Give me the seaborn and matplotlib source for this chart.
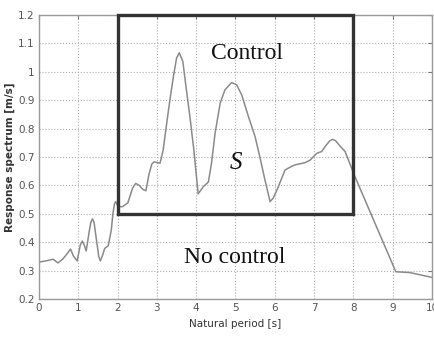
import matplotlib
matplotlib.use("Agg")
import matplotlib.pyplot as plt
import seaborn as sns
import pandas as pd
from matplotlib.patches import Rectangle

period = [0.0, 0.05, 0.2, 0.36, 0.48, 0.6, 0.72, 0.8, 0.88, 0.97, 1.05, 1.1, 1.15, 1.2,
          1.28, 1.32, 1.36, 1.40, 1.46, 1.52, 1.56, 1.62, 1.67, 1.76, 1.84, 1.88, 1.92,
          1.95, 1.98, 2.01, 2.12, 2.26, 2.38, 2.46, 2.55, 2.65, 2.72, 2.80, 2.87, 2.93,
          3.08, 3.16, 3.25, 3.33, 3.42, 3.50, 3.57, 3.66, 3.74, 3.84, 3.94, 4.05, 4.18,
          4.31, 4.39, 4.48, 4.61, 4.73, 4.90, 5.03, 5.16, 5.33, 5.50, 5.62, 5.75, 5.88,
          5.96, 6.09, 6.26, 6.40, 6.51, 6.77, 6.90, 7.07, 7.19, 7.30, 7.40, 7.47, 7.55,
          7.65, 7.79, 7.90, 8.04, 9.08, 9.44, 10.0]
response = [0.33, 0.331, 0.335, 0.34, 0.327, 0.34, 0.36, 0.376, 0.35, 0.334, 0.39, 0.404,
            0.39, 0.369, 0.44, 0.47, 0.482, 0.47, 0.41, 0.35, 0.334, 0.355, 0.378, 0.387,
            0.443, 0.50, 0.535, 0.543, 0.535, 0.525, 0.525, 0.538, 0.59, 0.607, 0.60,
            0.585, 0.581, 0.64, 0.675, 0.683, 0.678, 0.725, 0.819, 0.90, 0.983, 1.048,
            1.067, 1.036, 0.948, 0.842, 0.725, 0.57, 0.595, 0.612, 0.678, 0.783, 0.889,
            0.936, 0.962, 0.954, 0.918, 0.842, 0.771, 0.70, 0.619, 0.543, 0.555, 0.595,
            0.654, 0.665, 0.672, 0.68, 0.689, 0.713, 0.719, 0.74, 0.757, 0.762, 0.757,
            0.74, 0.719, 0.68, 0.631, 0.296, 0.293, 0.276]

box_x = [2, 8]
box_y = [0.5, 1.2]

xticks = [0, 1, 2, 3, 4, 5, 6, 7, 8, 9, 10]
yticks = [0.2, 0.3, 0.4, 0.5, 0.6, 0.7, 0.8, 0.9, 1.0, 1.1, 1.2]
ytick_labels = ["0.2", "0.3", "0.4", "0.5", "0.6", "0.7", "0.8", "0.9", "1", "1.1", "1.2"]

sns.set_style("white")
df = pd.DataFrame({"period": period, "response": response})

fig = plt.figure(figsize=(4.35, 3.40), dpi=100)
ax = fig.add_axes([0.0897, 0.1206, 0.9033, 0.8354])
sns.lineplot(data=df, x="period", y="response", ax=ax, color="#8a8a8a", linewidth=1.1)

ax.set_xlim(0, 10)
ax.set_ylim(0.2, 1.2)
ax.set_xticks(xticks)
ax.set_xticklabels([str(t) for t in xticks])
ax.set_yticks(yticks)
ax.set_yticklabels(ytick_labels)
ax.grid(True, linestyle=":", color="#b0b0b0", linewidth=0.8)
ax.tick_params(direction="in", top=True, right=True, length=3, width=0.8,
               colors="#777777", labelsize=7.5, pad=3)
for lab in ax.get_xticklabels() + ax.get_yticklabels():
    lab.set_color("#555555")
for sp in ax.spines.values():
    sp.set_color("#999999")
    sp.set_linewidth(1.0)

ax.add_patch(Rectangle((box_x[0], box_y[0]), box_x[1] - box_x[0], box_y[1] - box_y[0],
                       fill=False, edgecolor="#333333", linewidth=2.4, zorder=5,
                       clip_on=False))

ax.set_xlabel("Natural period [s]", fontsize=7.5, color="#333333", labelpad=4)
ax.set_ylabel("Response spectrum [m/s]", fontsize=7.5, color="#333333",
              fontweight="bold", labelpad=2)

ax.text(5.3, 1.065, "Control", family="Liberation Serif", fontsize=17,
        ha="center", va="center", color="#111111")
ax.text(5.0, 0.68, "S", family="Liberation Serif", fontstyle="italic", fontsize=18,
        ha="center", va="center", color="#111111")
ax.text(4.97, 0.345, "No control", family="Liberation Serif", fontsize=17,
        ha="center", va="center", color="#111111")

fig.savefig("out.png", dpi=100)
